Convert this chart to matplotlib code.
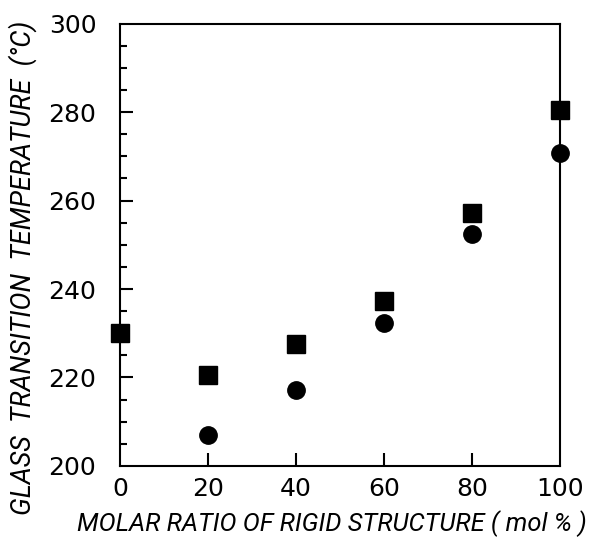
import numpy as np
import matplotlib
matplotlib.use('Agg')
import matplotlib.pyplot as plt
from matplotlib.ticker import MultipleLocator

# data
ratio_sq = [0, 20, 40, 60, 80, 100]
tg_sq = [230.0, 220.5, 227.5, 237.2, 257.2, 280.5]
ratio_ci = [20, 40, 60, 80, 100]
tg_ci = [207.0, 217.2, 232.3, 252.5, 270.8]

xticks = [0, 20, 40, 60, 80, 100]
yticks = [200, 220, 240, 260, 280, 300]

fig = plt.figure(figsize=(5.91, 5.38), dpi=100)
ax = fig.add_axes([0.203, 0.134, 0.745, 0.822])

ax.plot(ratio_sq, tg_sq, 's', color='black', markersize=12.5, clip_on=False, zorder=5)
ax.plot(ratio_ci, tg_ci, 'o', color='black', markersize=12.5, clip_on=False, zorder=5)

ax.set_xlim(0, 100)
ax.set_ylim(200, 300)
ax.set_xticks(xticks)
ax.set_yticks(yticks)
ax.yaxis.set_minor_locator(MultipleLocator(5))
ax.tick_params(axis='both', which='both', direction='in', width=1.5,
               top=False, right=False, labelsize=18)
ax.tick_params(axis='both', which='major', length=9.5)
ax.tick_params(axis='y', which='minor', length=5)
ax.tick_params(axis='x', pad=8)
ax.tick_params(axis='y', pad=17)
# no tick marks on the frame corners
for t in ax.xaxis.get_major_ticks()[::5]:
    t.tick1line.set_visible(False)
for t in ax.yaxis.get_major_ticks()[::5]:
    t.tick1line.set_visible(False)
for s in ax.spines.values():
    s.set_linewidth(1.5)

lab_font = ['Roboto', 'DejaVu Sans']
xl = ax.set_xlabel('MOLAR RATIO OF RIGID STRUCTURE ( mol % )', fontsize=18,
                   style='italic', family=lab_font)
yl = ax.set_ylabel('GLASS  TRANSITION  TEMPERATURE  (°C)', fontsize=18,
                   style='italic', family=lab_font)

# fit the label lengths to the reference (x label ~511 px, y label ~495 px)
fig.canvas.draw()
r = fig.canvas.get_renderer()
w = xl.get_window_extent(r).width
xl.set_fontsize(18 * 511 / w)
h = yl.get_window_extent(r).height
yl.set_fontsize(18 * 495 / h)

xl.set_va('center')
yl.set_va('center')
ax.xaxis.set_label_coords(0.482, -0.131)
ax.yaxis.set_label_coords(-0.222, 0.449)

fig.savefig('out.png', dpi=100)
